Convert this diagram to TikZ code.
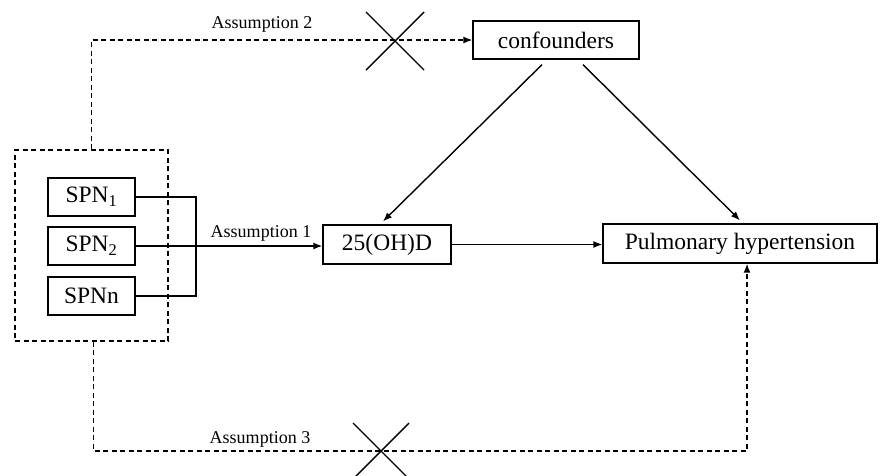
\documentclass[tikz,border=0pt]{standalone}
\usepackage{fontspec}
\setmainfont{Liberation Serif}
\usepackage{tikz}
\usetikzlibrary{arrows.meta}

\tikzset{
    box/.style={draw, line width=1.3pt, inner sep=0pt, font=\fontsize{23.5}{28}\selectfont},
    groupbox/.style={draw, line width=1.4pt, dash pattern=on 5pt off 3.5pt},
    lbl/.style={inner sep=0pt, font=\fontsize{18}{22}\selectfont},
    link/.style={line width=1.4pt, -{Latex[length=9pt,width=7pt]}},
    dashlink/.style={link, dash pattern=on 5pt off 3.5pt},
}

\begin{document}
\begin{tikzpicture}[x=1pt, y=-1pt]
        \useasboundingbox (0,0) rectangle (880,475);
        \foreach \i/\w/\y in {1/SPN\textsubscript{1}/197, 2/SPN\textsubscript{2}/246, n/SPNn/296}{
            \node[box, minimum width=87pt, minimum height=38pt] (spn\i) at (91.5,\y) {\w};
        }
        \node[groupbox, minimum width=153pt, minimum height=191pt] (snps) at (91.5,245.5) {};
        \node[box, minimum width=128pt, minimum height=39pt] (vitd) at (387,244.5) {25(OH)D};
        \node[box, minimum width=274pt, minimum height=39pt] (ph) at (740,243.5) {Pulmonary hypertension};
        \node[box, minimum width=166pt, minimum height=38pt] (conf) at (556,40) {confounders};

        \node[lbl] (a1) at (261,233) {Assumption 1};
        \node[lbl] (a2) at (262,24) {Assumption 2};
        \node[lbl] (a3) at (260,439) {Assumption 3};

        \coordinate (jn) at (196,246);
        \coordinate (c2) at (395,41);
        \coordinate (c3) at (381,451);

        \path[draw, line width=1.4pt] (spn1.east) -| (jn) |- (spnn.east);
        \path[draw, link] (spn2.east) -- (spn2.east -| vitd.west);
        \path[draw, link] (vitd.east) -- (vitd.east -| ph.west);
        \path[draw, link] ([xshift=-14pt, yshift=-5pt]conf.south) -- ([xshift=-4pt, yshift=3pt]vitd.north);
        \path[draw, link] ([xshift=27pt, yshift=-5pt]conf.south) -- ([yshift=3pt]ph.north);
        \path[draw, dashlink] (snps.north) |- (conf.west);
        \path[draw, dashlink] ([xshift=2pt]snps.south) |- (c3) -| ([xshift=7pt]ph.south);

        \path[draw, line width=1.4pt] ([shift={(-29,-29)}]c2) -- ([shift={(29,29)}]c2)
            ([shift={(29,-29)}]c2) -- ([shift={(-29,29)}]c2);
        \path[draw, line width=1.4pt] ([shift={(-28,-28)}]c3) -- ([shift={(28,28)}]c3)
            ([shift={(28,-28)}]c3) -- ([shift={(-28,28)}]c3);
    \end{tikzpicture}
\end{document}
